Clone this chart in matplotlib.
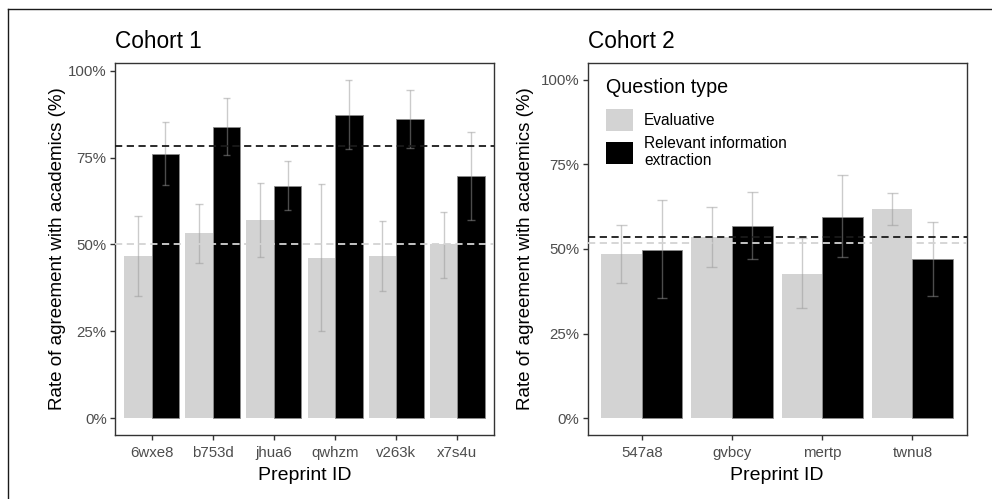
import numpy as np
import matplotlib
matplotlib.use("Agg")
import matplotlib.pyplot as plt
from matplotlib.patches import Patch
from matplotlib.lines import Line2D

plt.rcParams["font.family"] = ["Liberation Sans", "DejaVu Sans"]

# ── Data ────────────────────────────────────────────────────────────────────
c1_ids = ["6wxe8", "b753d", "jhua6", "qwhzm", "v263k", "x7s4u"]
c1_eval = [46.7, 53.2, 57.0, 46.2, 46.6, 50.0]
c1_eval_lo = [35.2, 44.6, 46.4, 25.2, 36.7, 40.3]
c1_eval_hi = [58.1, 61.7, 67.8, 67.4, 56.8, 59.3]
c1_rie = [76.0, 83.9, 66.9, 87.4, 86.2, 69.6]
c1_rie_lo = [67.0, 75.8, 60.0, 77.4, 77.8, 57.1]
c1_rie_hi = [85.2, 92.3, 73.9, 97.4, 94.6, 82.3]
c1_mean_eval = 50.0
c1_mean_rie = 78.4

c2_ids = ["547a8", "gvbcy", "mertp", "twnu8"]
c2_eval = [48.4, 53.4, 42.7, 61.8]
c2_eval_lo = [40.0, 44.7, 32.4, 57.2]
c2_eval_hi = [57.1, 62.4, 53.2, 66.5]
c2_rie = [49.8, 56.9, 59.6, 47.1]
c2_rie_lo = [35.4, 47.0, 47.5, 36.1]
c2_rie_hi = [64.4, 66.9, 71.8, 58.1]
c2_mean_eval = 51.8
c2_mean_rie = 53.4

# ── Style ───────────────────────────────────────────────────────────────────
EVAL_C = "#d3d3d3"
RIE_C = "#000000"
ERR_C = (0.6, 0.6, 0.6, 0.5)
AXIS_C = "#333333"
TICK_TXT = "#4d4d4d"
BAR_W = 0.45


def draw_panel(ax, ids, ev, ev_lo, ev_hi, rie, rie_lo, rie_hi,
               mean_ev, mean_rie, title, ylim):
    x = np.arange(1, len(ids) + 1)
    ax.bar(x - BAR_W / 2, ev, width=BAR_W, color=EVAL_C,
           edgecolor="none", zorder=2)
    ax.bar(x + BAR_W / 2, rie, width=BAR_W, color=RIE_C,
           edgecolor="#8c8c8c", linewidth=0.6, zorder=2)

    # error bars with caps in data units
    cap = 0.06
    for xs, lo, hi in ((x - BAR_W / 2, ev_lo, ev_hi),
                       (x + BAR_W / 2, rie_lo, rie_hi)):
        ax.vlines(xs, lo, hi, color=ERR_C, linewidth=1.0, zorder=3)
        ax.hlines(lo, xs - cap, xs + cap, color=ERR_C, linewidth=1.0, zorder=3)
        ax.hlines(hi, xs - cap, xs + cap, color=ERR_C, linewidth=1.0, zorder=3)

    ax.axhline(mean_ev, color="#d3d3d3", linestyle=(0, (4, 2.5)),
               linewidth=1.3, zorder=4)
    ax.axhline(mean_rie, color="#1a1a1a", linestyle=(0, (4, 2.5)),
               linewidth=1.3, zorder=4)

    ax.set_xlim(0.4, len(ids) + 0.6)
    ax.set_ylim(*ylim)
    ax.set_xticks(x)
    ax.set_xticklabels(ids)
    ax.set_yticks([0, 25, 50, 75, 100])
    ax.set_yticklabels(["0%", "25%", "50%", "75%", "100%"])
    ax.tick_params(axis="both", colors=AXIS_C, labelcolor=TICK_TXT,
                   labelsize=10.8, length=3.5, width=1.0)
    ax.tick_params(axis="x", pad=4.5)
    ax.tick_params(axis="y", pad=2.5)
    for s in ax.spines.values():
        s.set_color(AXIS_C)
        s.set_linewidth(1.0)

    ax.set_xlabel("Preprint ID", fontsize=14, color="black", labelpad=5)
    ax.set_ylabel("Rate of agreement with academics (%)", fontsize=13.5,
                  color="black")
    ax.set_title(title, loc="left", fontsize=16.3, color="black", pad=11)


fig = plt.figure(figsize=(9.92, 4.99), dpi=100, facecolor="white")

ax1 = fig.add_axes([0.1159, 0.1283, 0.3821, 0.7455])
draw_panel(ax1, c1_ids, c1_eval, c1_eval_lo, c1_eval_hi,
           c1_rie, c1_rie_lo, c1_rie_hi, c1_mean_eval, c1_mean_rie,
           "Cohort 1", (-4.87, 102.27))
ax1.yaxis.set_label_coords(-0.13, 0.5)

ax2 = fig.add_axes([0.5924, 0.1283, 0.3819, 0.7455])
draw_panel(ax2, c2_ids, c2_eval, c2_eval_lo, c2_eval_hi,
           c2_rie, c2_rie_lo, c2_rie_hi, c2_mean_eval, c2_mean_rie,
           "Cohort 2", (-5, 105))
ax2.yaxis.set_label_coords(-0.142, 0.5)

handles = [Patch(facecolor=EVAL_C, edgecolor="none"),
           Patch(facecolor=RIE_C, edgecolor="none")]
leg = ax2.legend(handles, ["Evaluative", "Relevant information\nextraction"],
                 title="Question type", loc="upper left",
                 bbox_to_anchor=(0.02, 0.99), frameon=False, fontsize=11.2,
                 title_fontsize=14.2, handlelength=1.7, handleheight=1.75,
                 handletextpad=0.75, labelspacing=0.35, borderaxespad=0.3)
leg._legend_box.align = "left"
leg._legend_box.sep = 9

# outer frame around the whole figure
fig.add_artist(Line2D([8 / 992, 8 / 992], [0, 1 - 9 / 499],
                      transform=fig.transFigure, color="#1a1a1a", lw=1.0))
fig.add_artist(Line2D([8 / 992, 1], [1 - 9 / 499, 1 - 9 / 499],
                      transform=fig.transFigure, color="#1a1a1a", lw=1.0))

fig.savefig("out.png", dpi=100, facecolor="white")
